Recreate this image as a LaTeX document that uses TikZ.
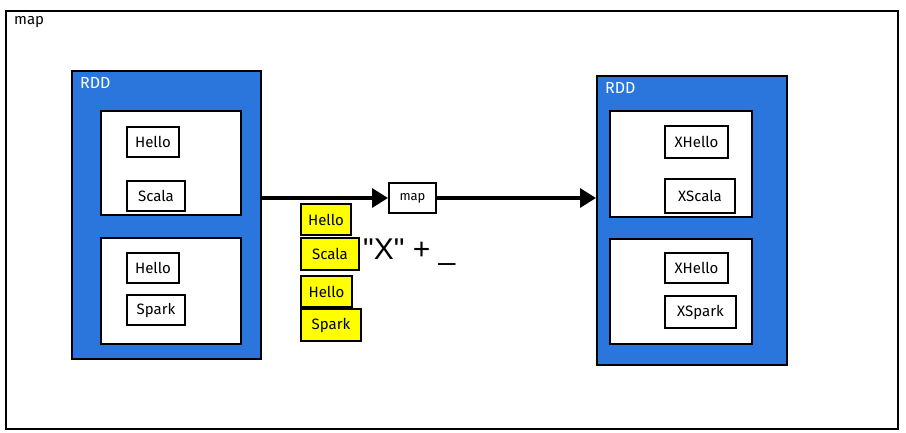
\documentclass[tikz,border=0pt]{standalone}
\usepackage{fontspec}
\setmainfont{Fira Sans}
\newfontfamily\funcfont{Liberation Sans}
\usetikzlibrary{arrows.meta}
\definecolor{rddblue}{HTML}{2A76DD}
\definecolor{tagyellow}{HTML}{FFFF00}
\begin{document}
\begin{tikzpicture}[x=1pt,y=-1pt,
  box/.style={draw=black,line width=2pt,inner sep=0pt,anchor=north west},
  rddbox/.style={box,fill=rddblue},
  part/.style={box,fill=white},
  word/.style={box,fill=white,font=\fontsize{15}{17}\selectfont},
  tag/.style={box,fill=tagyellow,font=\fontsize{15}{17}\selectfont},
  flow/.style={line width=3.2pt,-{Triangle[length=16pt,width=19pt]}}]
\useasboundingbox (0,0) rectangle (906,433);
\fill[white] (0,0) rectangle (906,433);
% outer frame
\node[box,line width=2pt,minimum width=892pt,minimum height=418pt] (frame) at (5,10) {};
\node[anchor=north west,inner sep=0pt,font=\fontsize{15}{17}\selectfont] (maplabel) at (14,16) {map};
% left RDD
\node[rddbox,minimum width=189pt,minimum height=288pt] (rdda) at (71,70) {};
\node[anchor=north west,inner sep=0pt,text=white,font=\fontsize{16}{18}\selectfont] (rddalabel) at (80,77) {RDD};
\node[part,minimum width=140pt,minimum height=104pt] (pa1) at (100,110) {};
\node[part,minimum width=140pt,minimum height=106pt] (pa2) at (100,237) {};
\node[word,minimum width=52pt,minimum height=30pt] (wa1) at (126,126) {Hello};
\node[word,minimum width=58pt,minimum height=30pt] (wa2) at (126,180) {Scala};
\node[word,minimum width=52pt,minimum height=30pt] (wa3) at (126,252) {Hello};
\node[word,minimum width=58pt,minimum height=30pt] (wa4) at (126,294) {Spark};
% right RDD
\node[rddbox,minimum width=190pt,minimum height=289pt] (rddb) at (596,75) {};
\node[anchor=north west,inner sep=0pt,text=white,font=\fontsize{16}{18}\selectfont] (rddblabel) at (605,82) {RDD};
\node[part,minimum width=142pt,minimum height=106pt] (pb1) at (609,110) {};
\node[part,minimum width=142pt,minimum height=105pt] (pb2) at (609,238) {};
\node[word,minimum width=63pt,minimum height=32pt] (wb1) at (664,125) {XHello};
\node[word,minimum width=70pt,minimum height=34pt] (wb2) at (664,178) {XScala};
\node[word,minimum width=63pt,minimum height=30pt] (wb3) at (664,252) {XHello};
\node[word,minimum width=71pt,minimum height=32pt] (wb4) at (664,295) {XSpark};
% map function box
\node[box,fill=white,minimum width=47pt,minimum height=30pt,font=\fontsize{13}{15}\selectfont] (mapbox) at (388,182) {map};
% yellow tags
\node[tag,minimum width=50pt,minimum height=31pt] (t1) at (300,203) {Hello};
\node[tag,minimum width=58pt,minimum height=32pt] (t2) at (300,237) {Scala};
\node[tag,minimum width=51pt,minimum height=31pt] (t3) at (300,275) {Hello};
\node[tag,minimum width=60pt,minimum height=32pt] (t4) at (300,308) {Spark};
\node[anchor=west,inner sep=0pt,font=\funcfont\fontsize{30}{34}\selectfont] (func) at (363,252) {"X" + \_};
% arrows
\draw[flow] (rdda.east |- mapbox.west) -- (mapbox.west);
\draw[flow] (mapbox.east) -- (rddb.west |- mapbox.east);
\end{tikzpicture}
\end{document}
